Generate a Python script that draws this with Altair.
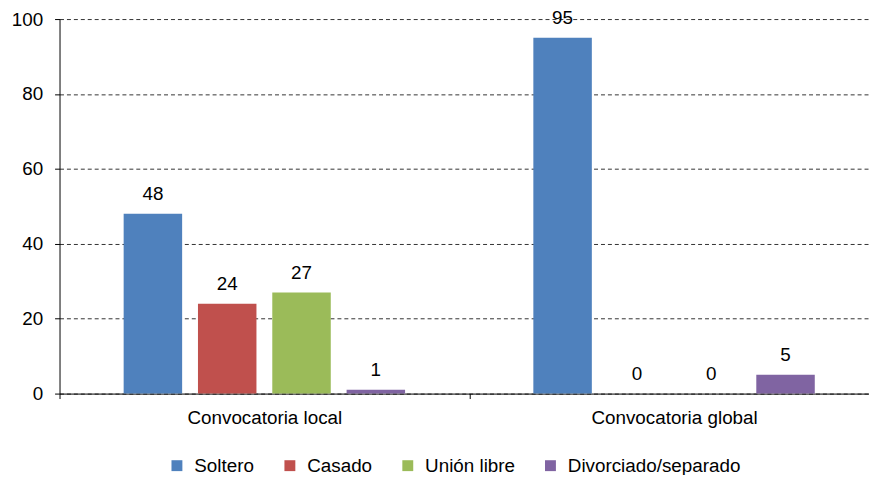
import altair as alt
import pandas as pd

groups = ["Convocatoria local", "Convocatoria global"]
categories = ["Soltero", "Casado", "Unión libre", "Divorciado/separado"]
local_values = [48, 24, 27, 1]
global_values = [95, 0, 0, 5]
colors = ["#4F81BD", "#C0504D", "#9BBB59", "#8064A2"]
y_ticks = [0, 20, 40, 60, 80, 100]

rows = []
for g, vals in zip(groups, [local_values, global_values]):
    for c, v in zip(categories, vals):
        rows.append({"grupo": g, "estado": c, "valor": v})
df = pd.DataFrame(rows)

FONT = "Arial"
FS = 19

x = alt.X(
    "grupo:N", sort=groups,
    scale=alt.Scale(range=[0, 827], paddingInner=0, paddingOuter=0),
    axis=alt.Axis(title=None, labelAngle=0, tickBand="extent", domainColor="black",
                  tickColor="black", tickSize=5, labelFontSize=FS, labelColor="black",
                  labelPadding=10, labelFont=FONT),
)
xo = alt.XOffset("estado:N", sort=categories,
                 scale=alt.Scale(paddingInner=0.213, paddingOuter=0.863))
y = alt.Y(
    "valor:Q",
    scale=alt.Scale(domain=[0, 100], nice=False),
    axis=alt.Axis(title=None, values=y_ticks, grid=True, gridDash=[4, 3], gridColor="#333333",
                  domainColor="black", tickColor="black", tickSize=5, labelFontSize=FS,
                  labelColor="black", labelPadding=12, labelFont=FONT),
)
color = alt.Color(
    "estado:N", sort=categories,
    scale=alt.Scale(domain=categories, range=colors),
    legend=alt.Legend(title=None, orient="none", direction="horizontal", legendX=109, legendY=441,
                      symbolType="square", symbolSize=121, labelFontSize=FS, labelFont=FONT,
                      labelColor="black", columnPadding=26, labelOffset=8, symbolStrokeWidth=0,
                      labelLimit=400),
)

bars = alt.Chart(df).mark_bar().encode(x=x, xOffset=xo, y=y, color=color)
labels = alt.Chart(df).mark_text(dy=-14, baseline="alphabetic", fontSize=FS, font=FONT, color="black").encode(
    x=x, xOffset=xo, y=y, text=alt.Text("valor:Q")
)

chart = (bars + labels).properties(
    width=817, height=378,
    autosize=alt.AutoSizeParams(type="none"),
    padding={"left": 52, "top": 9, "right": 0, "bottom": 80},
).configure_view(stroke=None)

chart.save("out.html", embed_options={"renderer": "svg", "actions": False})
